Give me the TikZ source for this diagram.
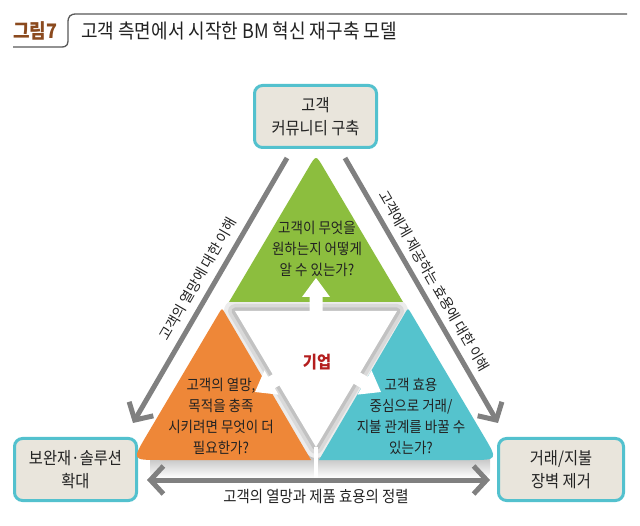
\documentclass[tikz,border=0pt]{standalone}
\usepackage{fontspec}
\setmainfont{Noto Sans CJK KR}[FakeStretch=0.9]
\newfontfamily\plainkr{Noto Sans CJK KR}
\usetikzlibrary{arrows.meta,calc}

\definecolor{leafgreen}{HTML}{8CBE3E}
\definecolor{warmorange}{HTML}{EE8738}
\definecolor{seacyan}{HTML}{55C3CD}
\definecolor{boxline}{HTML}{53C1CE}
\definecolor{boxfill}{HTML}{E9E5DC}
\definecolor{arrowgray}{HTML}{808080}
\definecolor{firmred}{HTML}{B41E1E}
\definecolor{figbrown}{HTML}{8B4A1E}
\definecolor{inkgray}{HTML}{222222}

\tikzset{
  goalbox/.style={draw=boxline, line width=3pt, fill=boxfill, rounded corners=8pt,
    align=center, inner sep=0pt, minimum height=62pt, text=inkgray,
    font=\fontsize{17}{23}\selectfont},
  qtext/.style={align=center, inner sep=0pt, text=inkgray, font=\fontsize{15}{21}\selectfont},
  sidetext/.style={inner sep=0pt, text=inkgray, font=\plainkr\fontsize{14}{18}\selectfont},
  grayarrow/.style={draw=arrowgray, line width=5pt, -{Straight Barb[length=13pt,width=28pt]}},
  titleline/.style={draw=black!65, line width=1.3pt},
}

% white block arrow: tip x, tip y, direction
\newcommand{\blockarrow}[3]{%
  \fill[white, shift={(#1,#2)}, rotate=#3] (0,0) -- (-19,14) -- (-19,6.5) -- (-70,6.5)
    -- (-70,-6.5) -- (-19,-6.5) -- (-19,-14) -- cycle;}

\begin{document}
\begin{tikzpicture}[x=1pt, y=-1pt]
\fill[white] (0,0) rectangle (640,526);
\useasboundingbox (0,0) rectangle (640,526);

% title
\node[anchor=west, inner sep=0pt, text=figbrown, font=\fontsize{20}{20}\selectfont\bfseries] (fignum) at (13,31) {그림7};
\node[anchor=west, inner sep=0pt, text=inkgray, font=\fontsize{20}{20}\selectfont] (figtitle) at (81,31) {고객 측면에서 시작한 BM 혁신 재구축 모델};
\draw[titleline] (13,47) -- (61,47) .. controls (68,47) and (68,44) .. (68,38) -- (68,23)
  .. controls (68,16) and (70,14) .. (77,14) -- (627,14);

% outcome boxes
\node[goalbox, minimum width=122pt] (topbox) at (315.5,116.5) {고객\\커뮤니티 구축};
\node[goalbox, minimum width=122pt] (leftbox) at (75.5,469.5) {보완재·솔루션\\확대};
\node[goalbox, minimum width=125pt] (rightbox) at (561,469.5) {거래/지불\\장벽 제거};

% shadow and hollow centre
\shade[top color=gray!60, bottom color=white, rounded corners=6pt] (150,452) rectangle (490,478);
\coordinate (wleft) at (235,311);
\coordinate (wright) at (397,311);
\coordinate (wbot) at (316,447);
\foreach \w/\c in {22/15, 14/30, 7/48}
  \draw[gray!\c, line width=\w pt, line join=round] (wleft) -- (wright) -- (wbot) -- cycle;
\draw[white, line width=4pt] (wbot) -- (316,478);
\fill[white] (wleft) -- (wright) -- (wbot) -- cycle;

% the three parts
\coordinate (gL) at (229,302);
\coordinate (gT) at (316,155);
\coordinate (gR) at (403,302);
\fill[leafgreen] (gL) -- ($(gT)!14pt!(gL)$) .. controls (gT) .. ($(gT)!14pt!(gR)$) -- (gR) -- cycle;
\coordinate (oL) at (132,460);
\coordinate (oT) at (222,308);
\coordinate (oR) at (311,460);
\fill[warmorange] (oR) -- ($(oL)!28pt!(oR)$) .. controls (oL) .. ($(oL)!28pt!(oT)$)
  -- ($(oT)!6pt!(oL)$) .. controls (oT) .. ($(oT)!6pt!(oR)$) -- cycle;
\coordinate (cL) at (319,460);
\coordinate (cT) at (408,308);
\coordinate (cR) at (498,460);
\fill[seacyan] (cL) -- ($(cT)!6pt!(cL)$) .. controls (cT) .. ($(cT)!6pt!(cR)$)
  -- ($(cR)!28pt!(cT)$) .. controls (cR) .. ($(cR)!28pt!(cL)$) -- cycle;

\blockarrow{316}{278}{90}
\blockarrow{255}{392}{210}
\blockarrow{381}{392}{-30}

\node[qtext] (needq) at (317,249) {고객이 무엇을\\원하는지 어떻게\\알 수 있는가?};
\node[qtext] (wantq) at (221,416) {고객의 열망,\\목적을 충족\\시키려면 무엇이 더\\필요한가?};
\node[qtext] (payq) at (411,416) {고객 효용\\중심으로 거래/\\지불 관계를 바꿀 수\\있는가?};
\node[inner sep=0pt, text=firmred, font=\fontsize{17}{17}\selectfont\bfseries] (firm) at (317,362) {기업};

% gray connectors
\coordinate (lhigh) at (287,158);
\coordinate (llow) at (133,423);
\coordinate (rhigh) at (345,158);
\coordinate (rlow) at (498,423);
\draw[grayarrow] (lhigh) -- (llow);
\draw[grayarrow] (rhigh) -- (rlow);
\draw[grayarrow, {Straight Barb[length=13pt,width=28pt]}-{Straight Barb[length=13pt,width=28pt]}]
  ([shift={(9,10.5)}]leftbox.east) -- ([shift={(-7,10.5)}]rightbox.west);

\node[sidetext, rotate=60] (wantlabel) at (198,279) {고객의 열망에 대한 이해};
\node[sidetext, rotate=-60] (uselabel) at (434,281) {고객에게 제공하는 효용에 대한 이해};
\node[sidetext, font=\fontsize{16}{18}\selectfont] (alignlabel) at (316,497) {고객의 열망과 제품 효용의 정렬};
\end{tikzpicture}
\end{document}
